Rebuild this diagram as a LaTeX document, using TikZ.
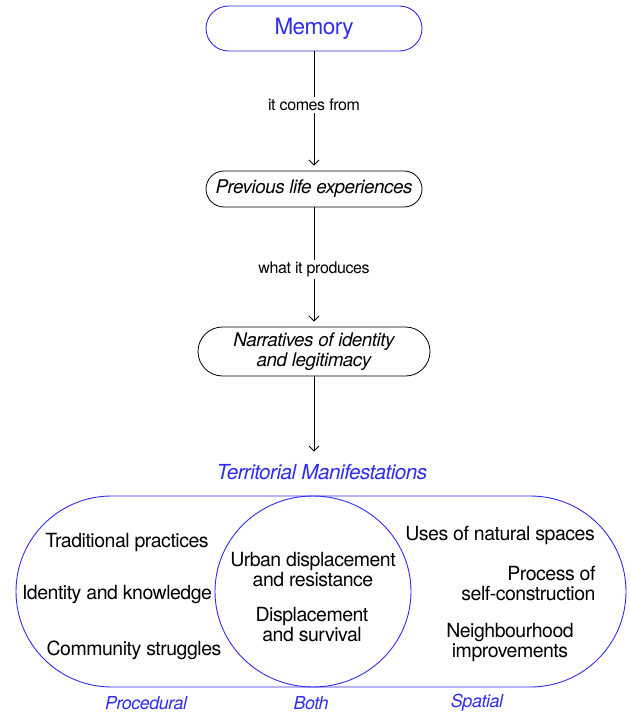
\documentclass[tikz,border=0pt]{standalone}
\usepackage{fontspec}
\setmainfont[LetterSpace=-2.5]{TeX Gyre Heros}
\usepackage{tikz}
\usetikzlibrary{shapes.geometric,arrows.meta}

\definecolor{vblue}{RGB}{45,45,235}

\tikzset{
  pill/.style={draw, rounded corners=#1, inner sep=0pt, align=center},
  flow/.style={-{Straight Barb[length=5pt,width=10pt,line width=0.9pt]}, line width=0.9pt, shorten >=5pt},
  note/.style={fill=white, inner sep=2pt, font=\fontsize{16}{18}\selectfont},
  item/.style={align=center, font=\fontsize{19.5}{20}\selectfont},
  tag/.style={text=vblue, font=\fontsize{17.9}{20}\selectfont\itshape}
}

\begin{document}
\begin{tikzpicture}[x=1pt,y=-1pt]
\useasboundingbox (0,0) rectangle (629,714);

 \node (mem) [pill=22.5pt, draw=vblue, line width=0.9pt, text=vblue, minimum width=216pt, minimum height=45pt,
   font=\fontsize{22.5}{24}\selectfont] at (314,28.5) {Memory};
  \node (prev) [pill=18pt, line width=0.8pt, minimum width=216pt, minimum height=36pt,
   font=\fontsize{18.8}{20}\selectfont\itshape] at (314,189) {Previous life experiences};
   \node (narr) [pill=24.5pt, line width=0.8pt, minimum width=232pt, minimum height=49pt,
   font=\fontsize{18.8}{20}\selectfont\itshape] at (314,351.5) {Narratives of identity\\and legitimacy};
    \node (terr) [tag, font=\fontsize{20.7}{22}\selectfont\itshape] at (322,472) {Territorial Manifestations};

 \draw[flow] (mem.south) -- node[note, pos=0.45] {it comes from} (mem.south |- prev.north);
 \draw[flow] (prev.south) -- node[note, pos=0.52] {what it produces} (prev.south |- narr.north);
 \draw[flow, shorten >=9pt] (narr.south) -- (narr.south |- terr.north);

 % the two fields and their overlap
 \node (field) [pill=95.5pt, draw=vblue, line width=0.9pt, minimum width=610pt, minimum height=191pt] at (321,591.5) {};
 \node (both) [draw=vblue, line width=0.9pt, ellipse, inner sep=0pt, minimum width=196pt, minimum height=191pt] at (313,591.5) {};

  \node (p1) [item] at (127,543) {Traditional practices};
  \node (p2) [item] at (117,595) {Identity and knowledge};
  \node (p3) [item] at (134,650) {Community struggles};

  \node (b1) [item] at (313,570) {Urban displacement\\and resistance};
  \node (b2) [item] at (312,625) {Displacement\\and survival};

  \node (s1) [item] at (500,535) {Uses of natural spaces};
  \node (s2) [item, align=right, anchor=east] at (599,584) {Process of\\self-construction};
  \node (s3) [item] at (510,643) {Neighbourhood\\improvements};

 \node (lp) [tag] at (146,703) {Procedural};
 \node (lb) [tag] at (311,703) {Both};
 \node (ls) [tag] at (477,703) {Spatial};

\end{tikzpicture}
\end{document}
